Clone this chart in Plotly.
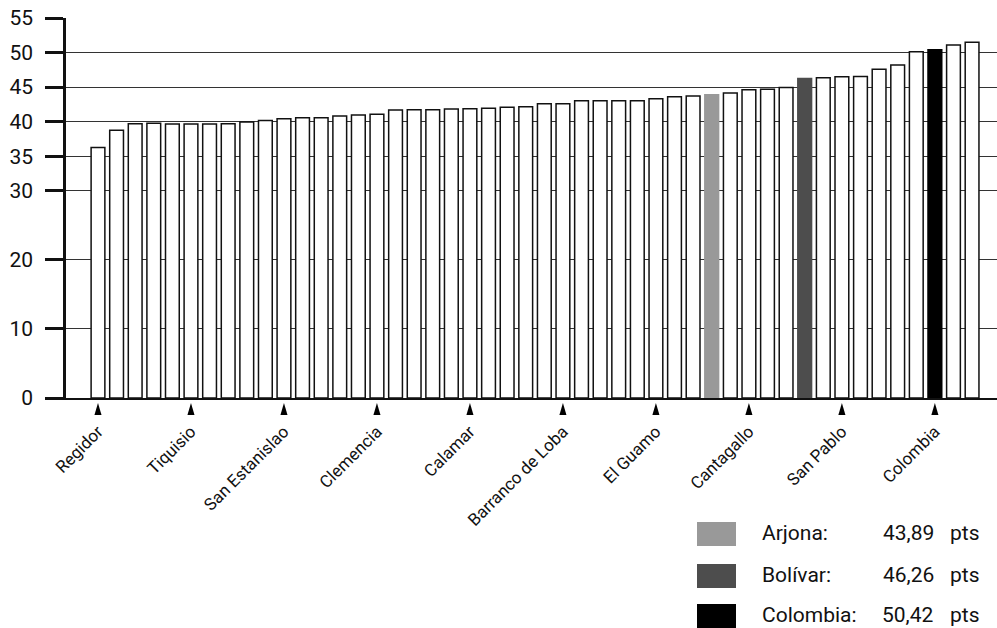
import plotly.graph_objects as go

# ---- data ----
puntajes = [36.25, 38.75, 39.7, 39.75, 39.66, 39.66, 39.66, 39.7, 39.95, 40.15,
            40.43, 40.58, 40.58, 40.8, 40.96, 41.06, 41.68, 41.73, 41.73, 41.83,
            41.88, 41.92, 42.07, 42.16, 42.6, 42.6, 43.03, 43.03, 43.03, 43.03,
            43.3, 43.6, 43.7, 43.89, 44.13, 44.6, 44.7, 44.95, 46.26, 46.35,
            46.5, 46.54, 47.6, 48.2, 50.1, 50.42, 51.1, 51.5]
posiciones = list(range(len(puntajes)))

etiquetas = ["Regidor", "Tiquisio", "San Estanislao", "Clemencia", "Calamar",
             "Barranco de Loba", "El Guamo", "Cantagallo", "San Pablo", "Colombia"]
etiquetas_pos = [0, 5, 10, 15, 20, 25, 30, 35, 40, 45]

destacados_nombre = ["Arjona:", "Bolívar:", "Colombia:"]
destacados_valor = ["43,89", "46,26", "50,42"]
destacados_pos = [33, 38, 45]
destacados_color = ["#999999", "#4d4d4d", "#000000"]

y_ticks = [0, 10, 20, 30, 35, 40, 45, 50, 55]

# ---- styling ----
fill = ["#ffffff"] * len(puntajes)
line = ["#111111"] * len(puntajes)
for p, c in zip(destacados_pos, destacados_color):
    fill[p] = c
    line[p] = c

FONT = "Roboto, 'Noto Sans', sans-serif"

fig = go.Figure()
fig.add_trace(go.Bar(
    x=posiciones, y=puntajes,
    marker=dict(color=fill, line=dict(color=line, width=1.5)),
    width=0.74, hoverinfo="skip", showlegend=False,
))

W, H = 997, 628
L, R, T, B = 66, 0, 18, 230
pw, ph = W - L - R, H - T - B


def px(xp):
    return (xp - L) / pw


def py(yp):
    return (H - B - yp) / ph


# arrow markers under labelled bars
hw = 0.19
for p in etiquetas_pos:
    fig.add_shape(type="path", xref="x", yref="paper",
                  path=f"M {p - hw} {py(415)} L {p + hw} {py(415)} L {p} {py(403)} Z",
                  fillcolor="black", line=dict(width=0))

rows_y = [534, 576, 616]
for yc, nm, val, col in zip(rows_y, destacados_nombre, destacados_valor, destacados_color):
    fig.add_shape(type="rect", xref="paper", yref="paper",
                  x0=px(697), x1=px(736), y0=py(yc + 12), y1=py(yc - 12),
                  fillcolor=col, line=dict(width=0))
    for txt, xx, anc in ((nm, 760, "left"), (val, 936, "right"), ("pts", 948, "left")):
        fig.add_annotation(xref="paper", yref="paper", x=px(xx), y=py(yc - 1), text=txt,
                           showarrow=False, xanchor=anc, yanchor="middle",
                           font=dict(size=21, color="#111", family=FONT))

fig.update_layout(
    width=W, height=H,
    margin=dict(l=L, r=R, t=T, b=B, pad=0),
    paper_bgcolor="white", plot_bgcolor="white",
    bargap=0.26,
    font=dict(family=FONT, color="#111"),
    xaxis=dict(
        range=[-1.72, 48.34], tickmode="array", tickvals=etiquetas_pos, ticktext=etiquetas,
        tickangle=-45, ticks="", ticklabelstandoff=15, showgrid=False, zeroline=False,
        showline=True, linecolor="#111", linewidth=2,
        tickfont=dict(size=17, color="#111", family=FONT),
    ),
    yaxis=dict(
        range=[0, 55], tickmode="array", tickvals=y_ticks,
        ticks="outside", ticklen=18, tickwidth=2.5, tickcolor="#111",
        showgrid=True, gridcolor="#333", gridwidth=1.3, zeroline=False,
        showline=True, linecolor="#111", linewidth=2.5,
        tickfont=dict(size=21, color="#111", family=FONT),
        ticklabelstandoff=8,
    ),
)

fig.write_html("out.html", config={"displayModeBar": False},
               post_script="document.body.style.margin='0px';")
